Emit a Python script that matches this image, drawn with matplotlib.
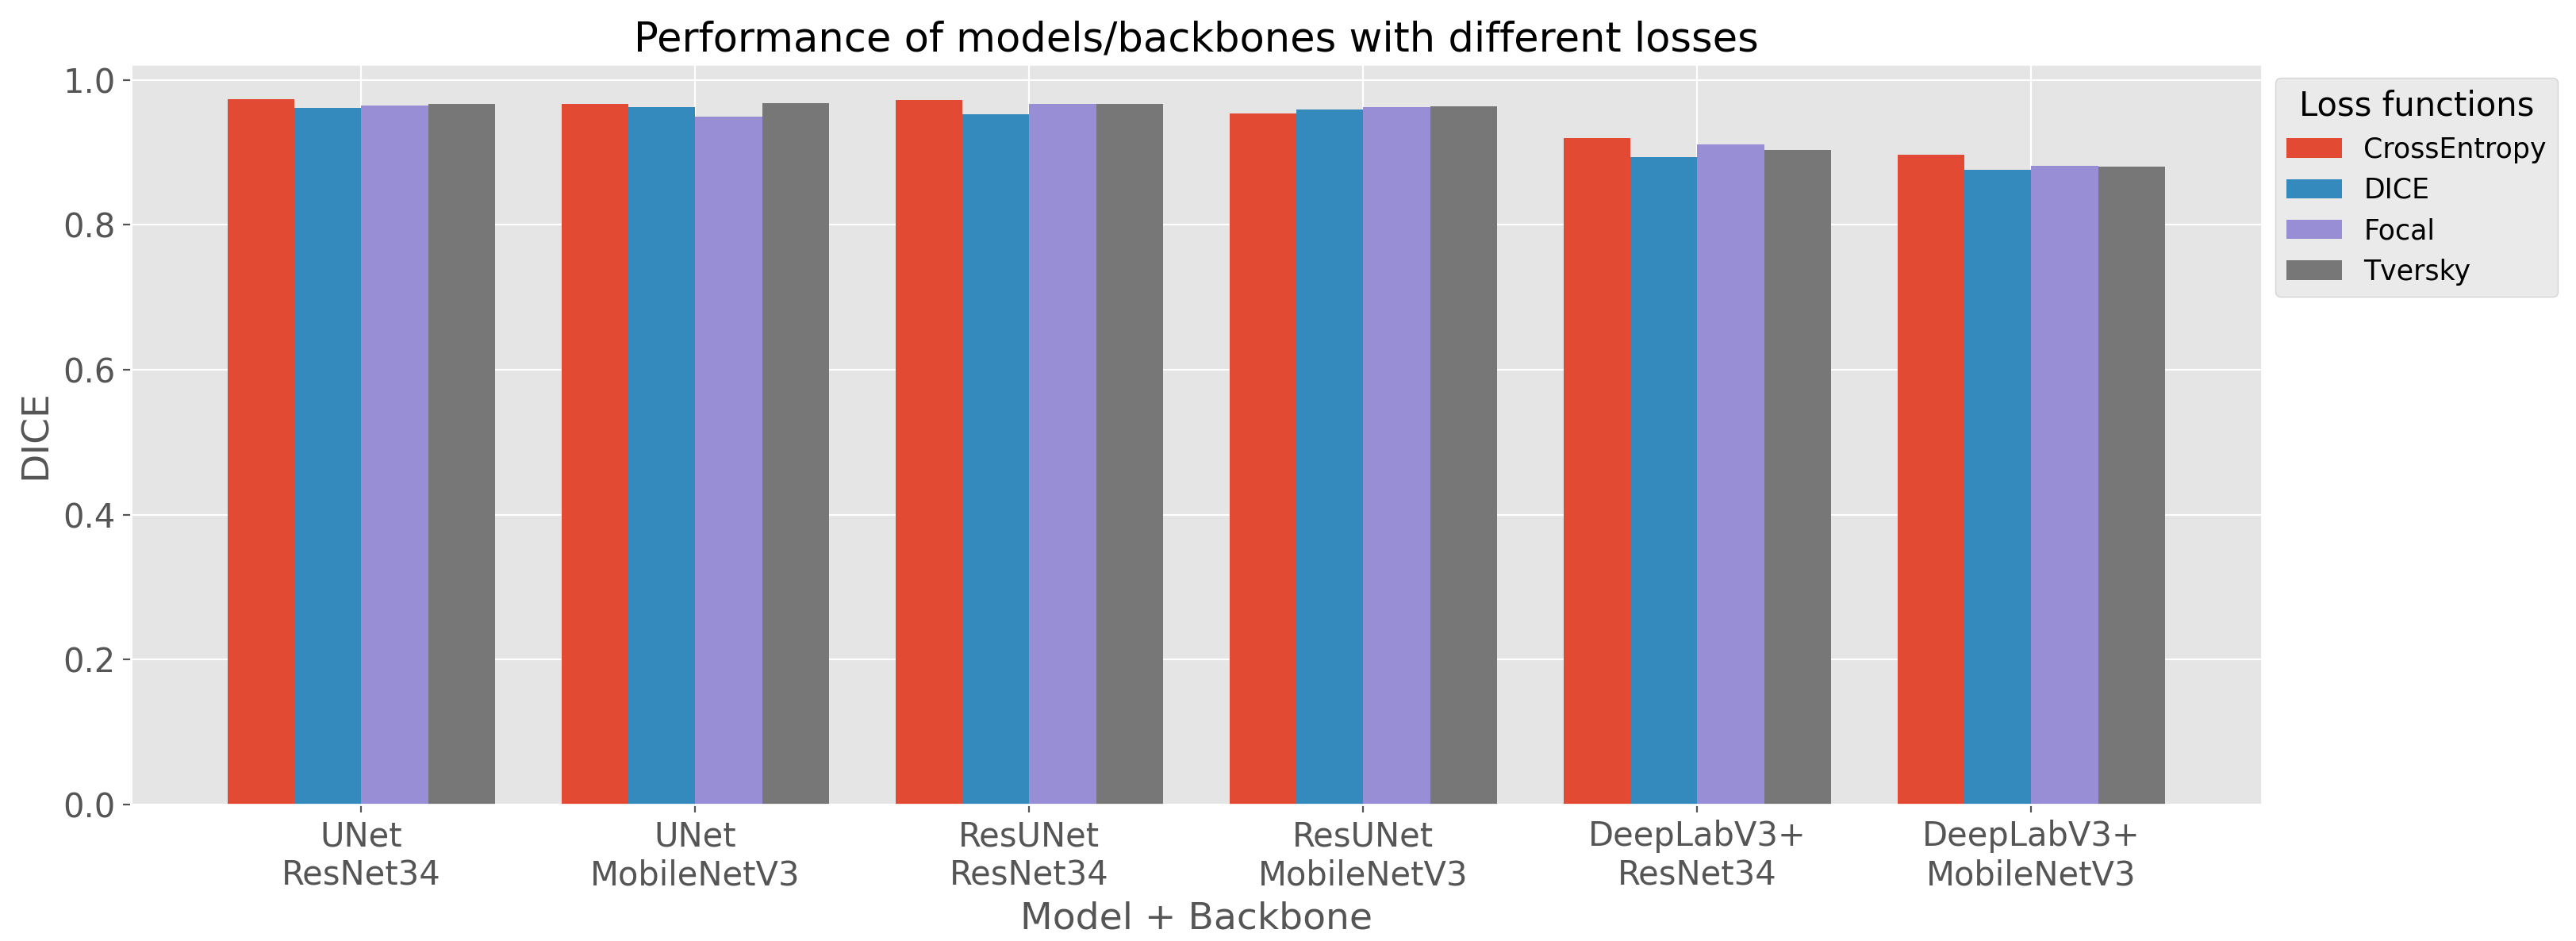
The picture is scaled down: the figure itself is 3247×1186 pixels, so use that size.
import numpy as np
import matplotlib
matplotlib.use("Agg")
import matplotlib.pyplot as plt

plt.style.use("ggplot")

# modelos + backbones
modelos = ["UNet\nResNet34", "UNet\nMobileNetV3", "ResUNet\nResNet34",
           "ResUNet\nMobileNetV3", "DeepLabV3+\nResNet34", "DeepLabV3+\nMobileNetV3"]

# DICE por funcion de perdida
cross_entropy = [0.973, 0.967, 0.972, 0.954, 0.920, 0.897]
dice = [0.961, 0.962, 0.953, 0.959, 0.894, 0.876]
focal = [0.965, 0.949, 0.967, 0.962, 0.911, 0.882]
tversky = [0.967, 0.968, 0.967, 0.964, 0.903, 0.880]

perdidas = ["CrossEntropy", "DICE", "Focal", "Tversky"]
valores = [cross_entropy, dice, focal, tversky]

fig = plt.figure(figsize=(16.235, 5.93), dpi=200)
ax = fig.add_axes([0.0508, 0.145, 0.878 - 0.0508, 0.9317 - 0.145])

x = np.arange(len(modelos))
ancho = 0.2
for i in range(len(perdidas)):
    ax.bar(x + (i - 1.5) * ancho, valores[i], ancho, label=perdidas[i])

ax.set_xticks(x)
ax.set_xticklabels(modelos)
ax.tick_params(axis="both", labelsize=15)
ax.set_xlabel("Model + Backbone", fontsize=17)
ax.set_ylabel("DICE", fontsize=17)
ax.set_title("Performance of models/backbones with different losses", fontsize=18.4)

ax.legend(title="Loss functions", bbox_to_anchor=(1.0, 1.0), loc="upper left",
          fontsize=12.5, title_fontsize=15)

fig.savefig("out.png", dpi=200)
